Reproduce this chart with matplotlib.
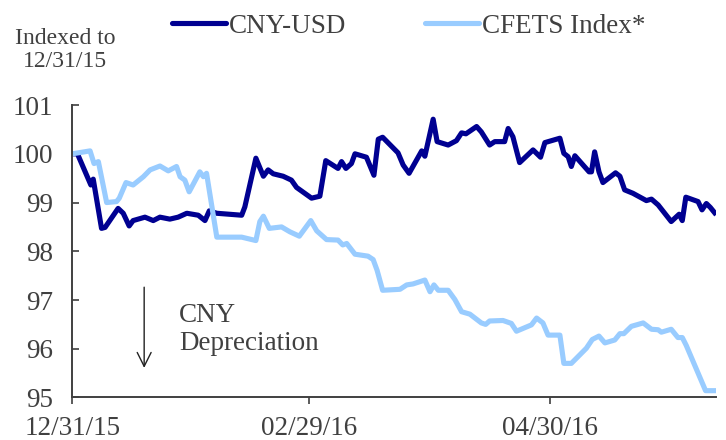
import matplotlib
matplotlib.use("Agg")
import matplotlib.pyplot as plt
import matplotlib.dates as mdates
import pandas as pd

plt.rcParams['font.family'] = ['Liberation Serif', 'DejaVu Serif']

# Data (days after 12/31/15, index level)
base_date = '2015-12-31'
cny_days = [0, 1.3, 4.7, 5.3, 7.4, 8.3, 11.6, 12.9, 14.4, 15.4, 18.4, 20.5, 22.2, 24.7,
            26.8, 29.0, 31.9, 33.6, 34.7, 36.6, 42.9, 43.7, 46.5, 48.4, 49.6, 50.9,
            53.4, 55.5, 56.8, 60.6, 62.7, 64.2, 67.3, 68.2, 69.3, 70.7, 71.6, 74.5,
            76.4, 77.5, 78.6, 82.5, 83.8, 85.3, 88.5, 89.3, 91.4, 92.4, 95.2, 97.3,
            98.6, 99.7, 102.4, 103.6, 105.7, 107.0, 109.5, 110.4, 111.6, 113.3, 116.7,
            118.6, 119.7, 123.5, 124.5, 125.6, 126.4, 127.3, 130.9, 131.5, 132.3,
            133.4, 134.4, 137.6, 138.7, 139.9, 142.0, 145.4, 146.7, 148.4, 151.7,
            153.7, 154.5, 155.4, 158.5, 159.5, 160.6, 161.6, 162.7]
cny_usd = [100.00, 100.00, 99.36, 99.48, 98.47, 98.49, 98.88, 98.78, 98.52, 98.63, 98.70,
           98.63, 98.70, 98.66, 98.70, 98.78, 98.74, 98.63, 98.83, 98.78, 98.74, 98.91,
           99.91, 99.54, 99.67, 99.59, 99.54, 99.46, 99.31, 99.09, 99.13, 99.86, 99.70,
           99.84, 99.70, 99.80, 100.00, 99.93, 99.56, 100.30, 100.34, 100.02, 99.77,
           99.60, 100.06, 99.95, 100.71, 100.25, 100.18, 100.27, 100.43, 100.41, 100.56,
           100.45, 100.18, 100.25, 100.25, 100.52, 100.35, 99.82, 100.08, 99.93, 100.23,
           100.32, 100.01, 99.94, 99.74, 99.96, 99.63, 99.63, 100.04, 99.63, 99.41,
           99.61, 99.54, 99.26, 99.19, 99.04, 99.07, 98.95, 98.61, 98.76, 98.63, 99.11,
           99.02, 98.85, 98.98, 98.90, 98.79]

cfets_days = [0, 4.5, 5.5, 6.6, 8.7, 11.2, 11.9, 13.6, 15.4, 18.0, 19.7, 22.2, 24.3, 26.4,
              27.3, 28.5, 29.6, 32.3, 33.2, 34.0, 36.6, 42.9, 46.5, 47.5, 48.4, 49.9,
              53.0, 55.1, 57.5, 60.4, 61.9, 64.4, 67.3, 68.5, 69.5, 71.6, 74.9, 76.2,
              77.2, 78.6, 83.0, 84.7, 86.3, 89.3, 90.6, 91.6, 92.7, 95.2, 96.9, 98.6,
              100.7, 103.6, 104.7, 105.7, 109.1, 111.2, 112.5, 116.3, 117.6, 119.2,
              120.5, 123.5, 124.5, 126.4, 130.2, 131.7, 133.4, 134.9, 137.4, 138.7,
              139.7, 141.6, 144.6, 146.7, 148.4, 149.2, 151.7, 153.4, 154.5, 155.5,
              160.4, 162.7]
cfets = [100.00, 100.06, 99.80, 99.84, 99.00, 99.02, 99.09, 99.41, 99.36, 99.53, 99.67,
         99.75, 99.65, 99.74, 99.53, 99.46, 99.22, 99.63, 99.53, 99.60, 98.29, 98.29,
         98.22, 98.61, 98.72, 98.47, 98.50, 98.40, 98.31, 98.63, 98.42, 98.24, 98.23,
         98.13, 98.16, 97.94, 97.90, 97.83, 97.61, 97.20, 97.22, 97.31, 97.33, 97.41,
         97.17, 97.31, 97.20, 97.20, 97.01, 96.76, 96.71, 96.53, 96.50, 96.57, 96.58,
         96.52, 96.36, 96.49, 96.63, 96.53, 96.28, 96.28, 95.70, 95.70, 96.01, 96.19,
         96.26, 96.12, 96.18, 96.31, 96.31, 96.46, 96.53, 96.40, 96.39, 96.34, 96.40,
         96.23, 96.23, 96.07, 95.14, 95.14]

tick_dates = ['2015-12-31', '2016-02-29', '2016-04-30']
y_ticks = [95, 96, 97, 98, 99, 100, 101]

base = pd.Timestamp(base_date)
cny_x = base + pd.to_timedelta(cny_days, unit='D')
cfets_x = base + pd.to_timedelta(cfets_days, unit='D')

text_color = '#404040'
navy = '#000091'
light_blue = '#99CCFF'

fig = plt.figure(figsize=(7.26, 4.4), dpi=100)
ax = fig.add_axes([0.0996, 0.0966, 0.8864, 0.6646])

ax.plot(cny_x, cny_usd, color=navy, lw=3.7, label='CNY-USD', solid_joinstyle='round')
ax.plot(cfets_x, cfets, color=light_blue, lw=3.7, label='CFETS Index*', solid_joinstyle='round')

ax.set_ylim(95, 101)
ax.set_xlim(base, base + pd.Timedelta(days=163))
ax.set_yticks(y_ticks)
ax.set_xticks(pd.to_datetime(tick_dates))
ax.xaxis.set_major_formatter(mdates.DateFormatter('%m/%d/%y'))

for side in ['top', 'right']:
    ax.spines[side].set_visible(False)
for side in ['left', 'bottom']:
    ax.spines[side].set_color(text_color)
    ax.spines[side].set_linewidth(1.4)

ax.tick_params(axis='y', direction='in', length=5, width=1.2, color=text_color,
               labelsize=19.5, labelcolor=text_color, pad=14)
ax.tick_params(axis='x', direction='out', length=5, width=1.2, color=text_color,
               labelsize=19.5, labelcolor=text_color, pad=8)

# CNY depreciation annotation
ax.annotate('', xy=(base + pd.Timedelta(days=18.2), 95.55),
            xytext=(base + pd.Timedelta(days=18.2), 97.32),
            arrowprops=dict(arrowstyle='->', color='#222222', lw=1.0, mutation_scale=25))
ax.text(base + pd.Timedelta(days=27), 96.4, 'CNY\nDepreciation', fontsize=19.5,
        color=text_color, ha='left', va='center', linespacing=1.15)

fig.text(65 / 726, 1 - 50 / 440, 'Indexed to\n12/31/15', fontsize=17, color=text_color,
         ha='center', va='center', linespacing=1.1)

leg = fig.legend(loc='center', bbox_to_anchor=(0.563, 0.94), ncol=2, frameon=False,
                 fontsize=19.5, handlelength=2.0, handletextpad=0.1, columnspacing=2.9,
                 labelcolor=text_color)
for line in leg.get_lines():
    line.set_solid_capstyle('round')

fig.savefig('out.png', dpi=100, facecolor='white')
